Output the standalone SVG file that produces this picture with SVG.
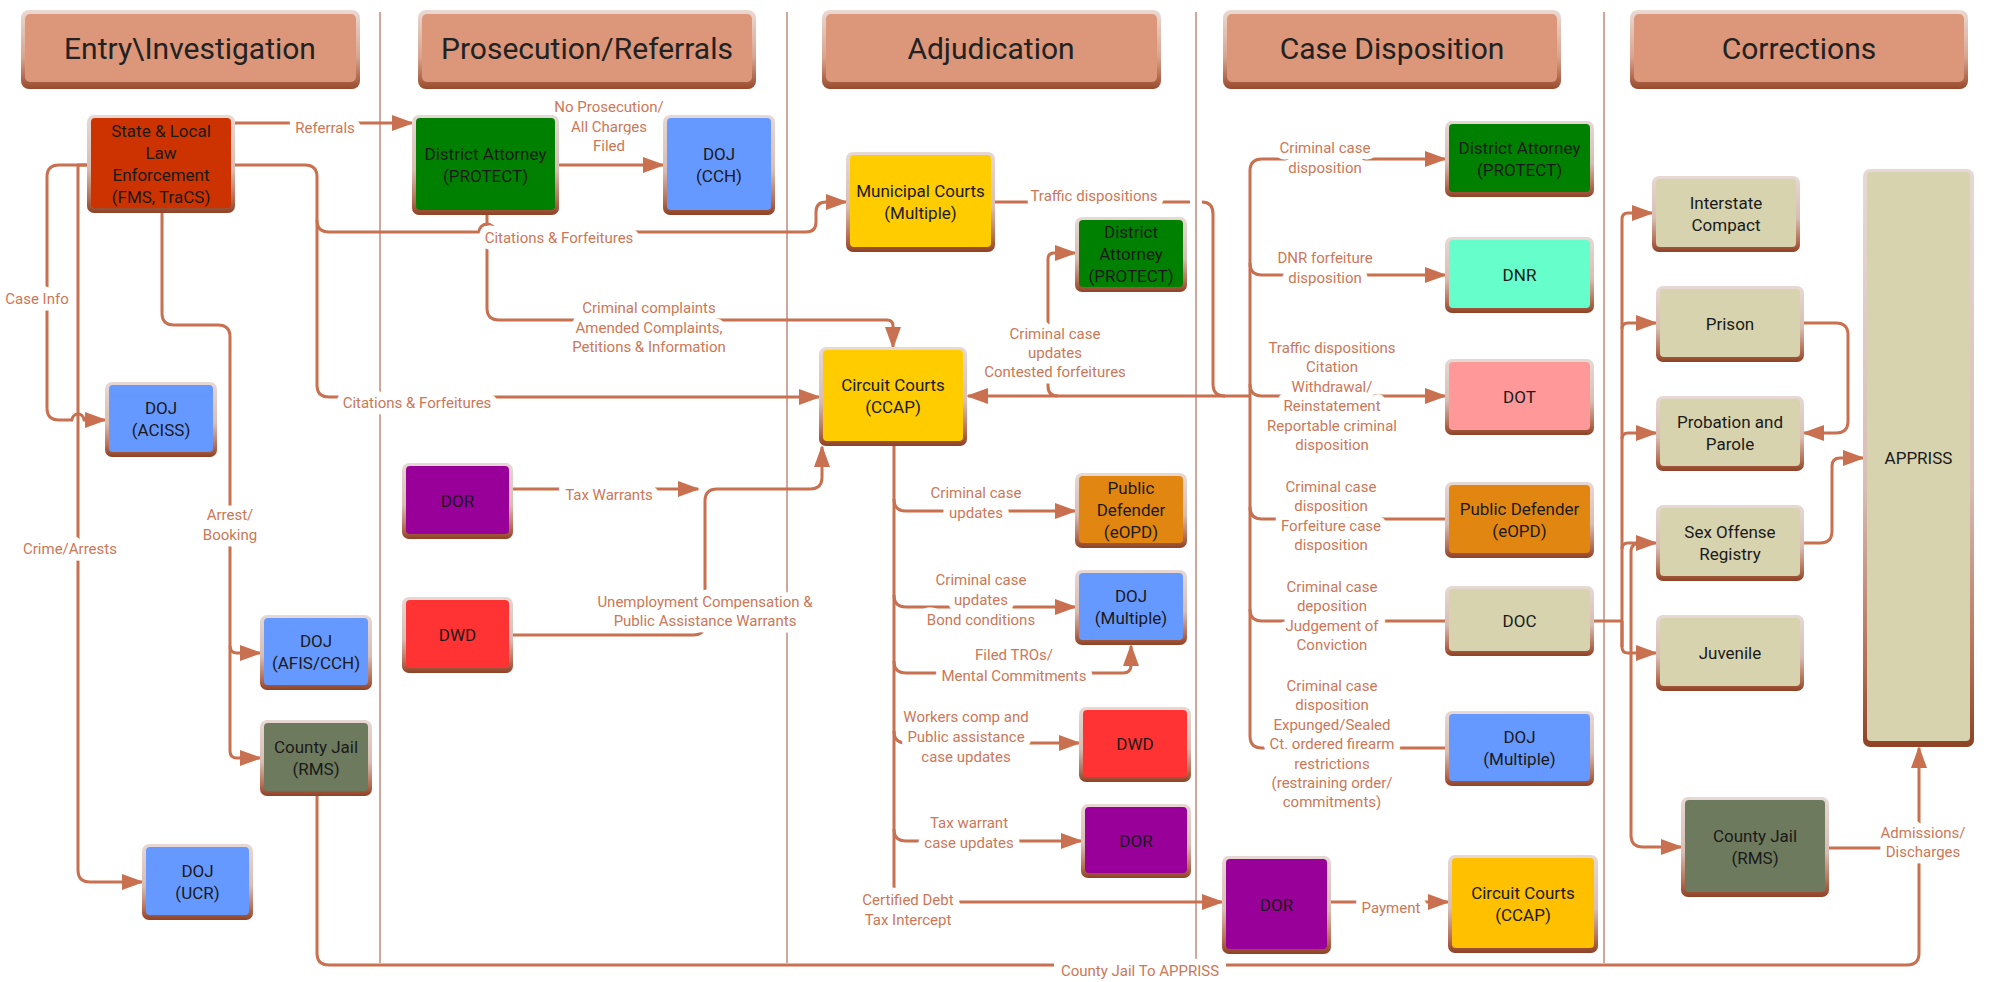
<svg xmlns="http://www.w3.org/2000/svg" width="2001" height="982" viewBox="0 0 2001 982">
<defs>
<linearGradient id="bev" x1="0" y1="0" x2="0" y2="1">
<stop offset="0" stop-color="#e6d8d4"/><stop offset="0.55" stop-color="#d9bdb3"/><stop offset="0.85" stop-color="#b56f55"/><stop offset="1" stop-color="#8e4226"/>
</linearGradient>
<linearGradient id="hbev" x1="0" y1="0" x2="0" y2="1">
<stop offset="0" stop-color="#ead9d3"/><stop offset="0.6" stop-color="#d8a48e"/><stop offset="1" stop-color="#9a4a2c"/>
</linearGradient>
<marker id="ah" viewBox="0 0 22 16" refX="20" refY="8" markerWidth="22" markerHeight="16" markerUnits="userSpaceOnUse" orient="auto"><path d="M0,0 L22,8 L0,16 Z" fill="#c8704f"/></marker>
<style>
.sep{stroke:#d0a79b;stroke-width:2;fill:none}
.c{fill:none;stroke:#c8704f;stroke-width:3;stroke-linejoin:round}
.a{marker-end:url(#ah)}
.lbl{font-family:Roboto,"Liberation Sans",sans-serif;font-size:15px;fill:#cc7757;text-anchor:middle;stroke:#ffffff;stroke-width:13;stroke-linejoin:round;paint-order:stroke}
.lb{fill:#ffffff}
.nt{font-family:Roboto,"Liberation Sans",sans-serif;font-size:17px;fill:#1a1a1a;text-anchor:middle}
.ht{font-family:Roboto,"Liberation Sans",sans-serif;font-size:30px;fill:#222222;text-anchor:middle}
.bv{fill:url(#bev)}
.hb{fill:url(#hbev)}
.hf{fill:#dc967a}
</style>
</defs>
<rect width="2001" height="982" fill="#ffffff"/>

<g id="separators">
<line class="sep" x1="380" y1="12" x2="380" y2="963"/>
<line class="sep" x1="787" y1="12" x2="787" y2="963"/>
<line class="sep" x1="1196" y1="12" x2="1196" y2="963"/>
<line class="sep" x1="1604" y1="12" x2="1604" y2="963"/>
</g>

<g id="headers">
<g id="h-entry"><rect class="hb" x="21" y="10" width="339" height="79" rx="8"/><rect class="hf" x="25" y="14" width="331" height="68" rx="5"/><text class="ht" x="190" y="59">Entry\Investigation</text></g>
<g id="h-pros"><rect class="hb" x="418" y="10" width="338" height="79" rx="8"/><rect class="hf" x="422" y="14" width="330" height="68" rx="5"/><text class="ht" x="587" y="59">Prosecution/Referrals</text></g>
<g id="h-adj"><rect class="hb" x="822" y="10" width="339" height="79" rx="8"/><rect class="hf" x="826" y="14" width="331" height="68" rx="5"/><text class="ht" x="991" y="59">Adjudication</text></g>
<g id="h-disp"><rect class="hb" x="1223" y="10" width="338" height="79" rx="8"/><rect class="hf" x="1227" y="14" width="330" height="68" rx="5"/><text class="ht" x="1392" y="59">Case Disposition</text></g>
<g id="h-corr"><rect class="hb" x="1630" y="10" width="338" height="79" rx="8"/><rect class="hf" x="1634" y="14" width="330" height="68" rx="5"/><text class="ht" x="1799" y="59">Corrections</text></g>
</g>

<g id="connectors">
<path class="c a" d="M235,123 H412"/>
<path class="c a" d="M235,165 H305 Q317,165 317,177 V220 Q317,232 329,232 H479 A8,8 0 0 1 495,232 H806 Q816,232 816,222 V212 Q816,202 826,202 H846"/>
<path class="c a" d="M317,220 V385 Q317,397 329,397 H819"/>
<path class="c a" d="M87,165 H59 Q47,165 47,177 V408 Q47,420 59,420 H72 A6,6 0 0 1 84,420 H105"/>
<path class="c a" d="M87,165 H78 V870 Q78,882 90,882 H142"/>
<path class="c a" d="M162,213 V313 Q162,325 174,325 H218 Q230,325 230,337 V646 Q230,653 237,653 H260"/>
<path class="c a" d="M230,646 V751 Q230,758 237,758 H260"/>
<path class="c a" d="M317,796 V953 Q317,965 329,965 H1907 Q1919,965 1919,953 V748"/>
<path class="c" d="M1829,848 H1919"/>
<path class="c a" d="M559,165 H663"/>
<path class="c a" d="M487,215 V308 Q487,320 499,320 H887 Q893,320 893,326 V347"/>
<path class="c a" d="M513,489 H698"/>
<path class="c a" d="M513,635 H693 Q705,635 705,623 V501 Q705,489 717,489 H810 Q822,489 822,477 V447"/>
<path class="c" d="M995,202 H1190 M1202,202 Q1213,202 1213,214 V384 Q1213,396 1225,396"/>
<path class="c a" d="M1250,396 H968"/>
<path class="c a" d="M1058,396 Q1048,396 1048,386 V259 Q1048,253 1054,253 H1075"/>
<path class="c a" d="M1250,171 Q1250,159 1262,159 H1445"/>
<path class="c a" d="M1250,263 Q1250,275 1262,275 H1445"/>
<path class="c a" d="M1250,384 Q1250,396 1262,396 H1445"/>
<path class="c" d="M1250,507 Q1250,519 1262,519 H1445"/>
<path class="c" d="M1250,609 Q1250,621 1262,621 H1445"/>
<path class="c" d="M1250,171 V736 Q1250,748 1262,748 H1445"/>
<path class="c a" d="M894,446 V902 H1222"/>
<path class="c a" d="M894,499 Q894,511 906,511 H1075"/>
<path class="c a" d="M894,595 Q894,607 906,607 H1075"/>
<path class="c a" d="M894,661 Q894,673 906,673 H1123 Q1131,673 1131,665 V646"/>
<path class="c a" d="M894,731 Q894,743 906,743 H1079"/>
<path class="c a" d="M894,829 Q894,841 906,841 H1081"/>
<path class="c a" d="M1331,902 H1448"/>
<path class="c" d="M1594,621 H1622"/>
<path class="c a" d="M1622,647 V219 Q1622,213 1628,213 H1652"/>
<path class="c a" d="M1622,329 Q1622,323 1628,323 H1656"/>
<path class="c a" d="M1622,439 Q1622,433 1628,433 H1656"/>
<path class="c a" d="M1622,549 Q1622,543 1628,543 H1656"/>
<path class="c a" d="M1622,621 V647 Q1622,653 1628,653 H1656"/>
<path class="c a" d="M1640,543 Q1631,543 1631,552 V835 Q1631,847 1643,847 H1681"/>
<path class="c a" d="M1804,323 H1836 Q1848,323 1848,335 V421 Q1848,433 1836,433 H1804"/>
<path class="c a" d="M1804,543 H1820 Q1832,543 1832,531 V466 Q1832,458 1840,458 H1863"/>

<rect class="lb" x="1359" y="897" width="64" height="22"/>
<rect class="lb" x="1054" y="959" width="172" height="23"/>

<text class="lbl" x="325" y="133">Referrals</text>
<text class="lbl" x="559" y="243">Citations &amp; Forfeitures</text>
<text class="lbl" x="417" y="408">Citations &amp; Forfeitures</text>
<text class="lbl" x="37" y="304">Case Info</text>
<text class="lbl" x="70" y="554">Crime/Arrests</text>
<text class="lbl" x="230" y="520">Arrest/<tspan x="230" dy="19.5">Booking</tspan></text>
<text class="lbl" x="609" y="112">No Prosecution/<tspan x="609" dy="19.5">All Charges</tspan><tspan x="609" dy="19.5">Filed</tspan></text>
<text class="lbl" x="649" y="313">Criminal complaints<tspan x="649" dy="19.5">Amended Complaints,</tspan><tspan x="649" dy="19.5">Petitions &amp; Information</tspan></text>
<text class="lbl" x="609" y="500">Tax Warrants</text>
<text class="lbl" x="705" y="607">Unemployment Compensation &amp;<tspan x="705" dy="19">Public Assistance Warrants</tspan></text>
<text class="lbl" x="1094" y="201">Traffic dispositions</text>
<text class="lbl" x="1055" y="339">Criminal case<tspan x="1055" dy="19.2">updates</tspan><tspan x="1055" dy="19.2">Contested forfeitures</tspan></text>
<text class="lbl" x="976" y="498">Criminal case<tspan x="976" dy="20">updates</tspan></text>
<text class="lbl" x="981" y="585">Criminal case<tspan x="981" dy="20">updates</tspan><tspan x="981" dy="20">Bond conditions</tspan></text>
<text class="lbl" x="1014" y="660">Filed TROs/<tspan x="1014" dy="20.5">Mental Commitments</tspan></text>
<text class="lbl" x="966" y="722">Workers comp and<tspan x="966" dy="20">Public assistance</tspan><tspan x="966" dy="20">case updates</tspan></text>
<text class="lbl" x="969" y="828">Tax warrant<tspan x="969" dy="20">case updates</tspan></text>
<text class="lbl" x="908" y="905">Certified Debt<tspan x="908" dy="19.5">Tax Intercept</tspan></text>
<text class="lbl" x="1325" y="153">Criminal case<tspan x="1325" dy="20">disposition</tspan></text>
<text class="lbl" x="1325" y="263">DNR forfeiture<tspan x="1325" dy="20">disposition</tspan></text>
<text class="lbl" x="1332" y="353">Traffic dispositions<tspan x="1332" dy="19.4">Citation</tspan><tspan x="1332" dy="19.4">Withdrawal/</tspan><tspan x="1332" dy="19.4">Reinstatement</tspan><tspan x="1332" dy="19.4">Reportable criminal</tspan><tspan x="1332" dy="19.4">disposition</tspan></text>
<text class="lbl" x="1331" y="492">Criminal case<tspan x="1331" dy="19.4">disposition</tspan><tspan x="1331" dy="19.4">Forfeiture case</tspan><tspan x="1331" dy="19.4">disposition</tspan></text>
<text class="lbl" x="1332" y="592">Criminal case<tspan x="1332" dy="19.4">deposition</tspan><tspan x="1332" dy="19.4">Judgement of</tspan><tspan x="1332" dy="19.4">Conviction</tspan></text>
<text class="lbl" x="1332" y="691">Criminal case<tspan x="1332" dy="19.4">disposition</tspan><tspan x="1332" dy="19.4">Expunged/Sealed</tspan><tspan x="1332" dy="19.4">Ct. ordered firearm</tspan><tspan x="1332" dy="19.4">restrictions</tspan><tspan x="1332" dy="19.4">(restraining order/</tspan><tspan x="1332" dy="19.4">commitments)</tspan></text>
<text class="lbl" x="1391" y="913">Payment</text>
<text class="lbl" x="1923" y="838">Admissions/<tspan x="1923" dy="19">Discharges</tspan></text>
<text class="lbl" x="1140" y="976">County Jail To APPRISS</text>
</g>

<g id="nodes">
<g id="n-law"><rect class="bv" x="87" y="115" width="148" height="98" rx="7"/><rect x="91" y="118" width="140" height="90" rx="4" fill="#cc3300"/><text class="nt" x="161" y="137">State &amp; Local<tspan x="161" dy="22">Law</tspan><tspan x="161" dy="22">Enforcement</tspan><tspan x="161" dy="22">(FMS, TraCS)</tspan></text></g>
<g id="n-da1"><rect class="bv" x="412" y="115" width="147" height="100" rx="7"/><rect x="416" y="118" width="139" height="92" rx="4" fill="#008000"/><text class="nt" x="485.5" y="160">District Attorney<tspan x="485.5" dy="22">(PROTECT)</tspan></text></g>
<g id="n-dojcch"><rect class="bv" x="663" y="115" width="112" height="100" rx="7"/><rect x="667" y="118" width="104" height="92" rx="4" fill="#6699ff"/><text class="nt" x="719" y="160">DOJ<tspan x="719" dy="22">(CCH)</tspan></text></g>
<g id="n-aciss"><rect class="bv" x="105" y="382" width="112" height="75" rx="7"/><rect x="109" y="385" width="104" height="67" rx="4" fill="#6699ff"/><text class="nt" x="161" y="414">DOJ<tspan x="161" dy="22">(ACISS)</tspan></text></g>
<g id="n-afis"><rect class="bv" x="260" y="615" width="112" height="75" rx="7"/><rect x="264" y="618" width="104" height="67" rx="4" fill="#6699ff"/><text class="nt" x="316" y="647">DOJ<tspan x="316" dy="22">(AFIS/CCH)</tspan></text></g>
<g id="n-jail1"><rect class="bv" x="260" y="720" width="112" height="76" rx="7"/><rect x="264" y="723" width="104" height="68" rx="4" fill="#6e7a5e"/><text class="nt" x="316" y="753">County Jail<tspan x="316" dy="22">(RMS)</tspan></text></g>
<g id="n-ucr"><rect class="bv" x="142" y="844" width="111" height="76" rx="7"/><rect x="146" y="847" width="103" height="68" rx="4" fill="#6699ff"/><text class="nt" x="197.5" y="877">DOJ<tspan x="197.5" dy="22">(UCR)</tspan></text></g>
<g id="n-dor1"><rect class="bv" x="402" y="463" width="111" height="76" rx="7"/><rect x="406" y="466" width="103" height="68" rx="4" fill="#990099"/><text class="nt" x="457.5" y="507">DOR</text></g>
<g id="n-dwd1"><rect class="bv" x="402" y="597" width="111" height="76" rx="7"/><rect x="406" y="600" width="103" height="68" rx="4" fill="#ff3333"/><text class="nt" x="457.5" y="641">DWD</text></g>
<g id="n-muni"><rect class="bv" x="846" y="152" width="149" height="100" rx="7"/><rect x="850" y="155" width="141" height="92" rx="4" fill="#ffcc00"/><text class="nt" x="920.5" y="197">Municipal Courts<tspan x="920.5" dy="22">(Multiple)</tspan></text></g>
<g id="n-da2"><rect class="bv" x="1075" y="217" width="112" height="75" rx="7"/><rect x="1079" y="220" width="104" height="67" rx="4" fill="#008000"/><text class="nt" x="1131" y="238">District<tspan x="1131" dy="22">Attorney</tspan><tspan x="1131" dy="22">(PROTECT)</tspan></text></g>
<g id="n-cc"><rect class="bv" x="819" y="347" width="148" height="99" rx="7"/><rect x="823" y="350" width="140" height="91" rx="4" fill="#ffcc00"/><text class="nt" x="893" y="391">Circuit Courts<tspan x="893" dy="22">(CCAP)</tspan></text></g>
<g id="n-pd1"><rect class="bv" x="1075" y="473" width="112" height="75" rx="7"/><rect x="1079" y="476" width="104" height="67" rx="4" fill="#e28612"/><text class="nt" x="1131" y="494">Public<tspan x="1131" dy="22">Defender</tspan><tspan x="1131" dy="22">(eOPD)</tspan></text></g>
<g id="n-dojm1"><rect class="bv" x="1075" y="570" width="112" height="75" rx="7"/><rect x="1079" y="573" width="104" height="67" rx="4" fill="#6699ff"/><text class="nt" x="1131" y="602">DOJ<tspan x="1131" dy="22">(Multiple)</tspan></text></g>
<g id="n-dwd2"><rect class="bv" x="1079" y="707" width="112" height="75" rx="7"/><rect x="1083" y="710" width="104" height="67" rx="4" fill="#ff3333"/><text class="nt" x="1135" y="750">DWD</text></g>
<g id="n-dor2"><rect class="bv" x="1081" y="804" width="110" height="74" rx="7"/><rect x="1085" y="807" width="102" height="66" rx="4" fill="#990099"/><text class="nt" x="1136" y="847">DOR</text></g>
<g id="n-da3"><rect class="bv" x="1445" y="121" width="149" height="76" rx="7"/><rect x="1449" y="124" width="141" height="68" rx="4" fill="#008000"/><text class="nt" x="1519.5" y="154">District Attorney<tspan x="1519.5" dy="22">(PROTECT)</tspan></text></g>
<g id="n-dnr"><rect class="bv" x="1445" y="237" width="149" height="76" rx="7"/><rect x="1449" y="240" width="141" height="68" rx="4" fill="#66ffcc"/><text class="nt" x="1519.5" y="281">DNR</text></g>
<g id="n-dot"><rect class="bv" x="1445" y="359" width="149" height="76" rx="7"/><rect x="1449" y="362" width="141" height="68" rx="4" fill="#ff9999"/><text class="nt" x="1519.5" y="403">DOT</text></g>
<g id="n-pd2"><rect class="bv" x="1445" y="482" width="149" height="76" rx="7"/><rect x="1449" y="485" width="141" height="68" rx="4" fill="#e28612"/><text class="nt" x="1519.5" y="515">Public Defender<tspan x="1519.5" dy="22">(eOPD)</tspan></text></g>
<g id="n-doc"><rect class="bv" x="1445" y="586" width="149" height="70" rx="7"/><rect x="1449" y="589" width="141" height="62" rx="4" fill="#d6d3ae"/><text class="nt" x="1519.5" y="627">DOC</text></g>
<g id="n-dojm2"><rect class="bv" x="1445" y="711" width="149" height="75" rx="7"/><rect x="1449" y="714" width="141" height="67" rx="4" fill="#6699ff"/><text class="nt" x="1519.5" y="743">DOJ<tspan x="1519.5" dy="22">(Multiple)</tspan></text></g>
<g id="n-dor3"><rect class="bv" x="1222" y="856" width="109" height="98" rx="7"/><rect x="1226" y="859" width="101" height="90" rx="4" fill="#990099"/><text class="nt" x="1276.5" y="911">DOR</text></g>
<g id="n-cc2"><rect class="bv" x="1448" y="855" width="150" height="98" rx="7"/><rect x="1452" y="858" width="142" height="90" rx="4" fill="#ffc000"/><text class="nt" x="1523" y="899">Circuit Courts<tspan x="1523" dy="22">(CCAP)</tspan></text></g>
<g id="n-ic"><rect class="bv" x="1652" y="176" width="148" height="76" rx="7"/><rect x="1656" y="179" width="140" height="68" rx="4" fill="#d6d3ae"/><text class="nt" x="1726" y="209">Interstate<tspan x="1726" dy="22">Compact</tspan></text></g>
<g id="n-prison"><rect class="bv" x="1656" y="286" width="148" height="76" rx="7"/><rect x="1660" y="289" width="140" height="68" rx="4" fill="#d6d3ae"/><text class="nt" x="1730" y="330">Prison</text></g>
<g id="n-pp"><rect class="bv" x="1656" y="396" width="148" height="75" rx="7"/><rect x="1660" y="399" width="140" height="67" rx="4" fill="#d6d3ae"/><text class="nt" x="1730" y="428">Probation and<tspan x="1730" dy="22">Parole</tspan></text></g>
<g id="n-sor"><rect class="bv" x="1656" y="505" width="148" height="76" rx="7"/><rect x="1660" y="508" width="140" height="68" rx="4" fill="#d6d3ae"/><text class="nt" x="1730" y="538">Sex Offense<tspan x="1730" dy="22">Registry</tspan></text></g>
<g id="n-juv"><rect class="bv" x="1656" y="615" width="148" height="76" rx="7"/><rect x="1660" y="618" width="140" height="68" rx="4" fill="#d6d3ae"/><text class="nt" x="1730" y="659">Juvenile</text></g>
<g id="n-jail2"><rect class="bv" x="1681" y="797" width="148" height="100" rx="7"/><rect x="1685" y="800" width="140" height="92" rx="4" fill="#6e7a5e"/><text class="nt" x="1755" y="842">County Jail<tspan x="1755" dy="22">(RMS)</tspan></text></g>
<g id="n-appriss"><rect class="bv" x="1863" y="169" width="111" height="578" rx="7"/><rect x="1867" y="172" width="103" height="569" rx="4" fill="#d6d3ae"/><text class="nt" x="1918.5" y="464">APPRISS</text></g>
</g>
</svg>
